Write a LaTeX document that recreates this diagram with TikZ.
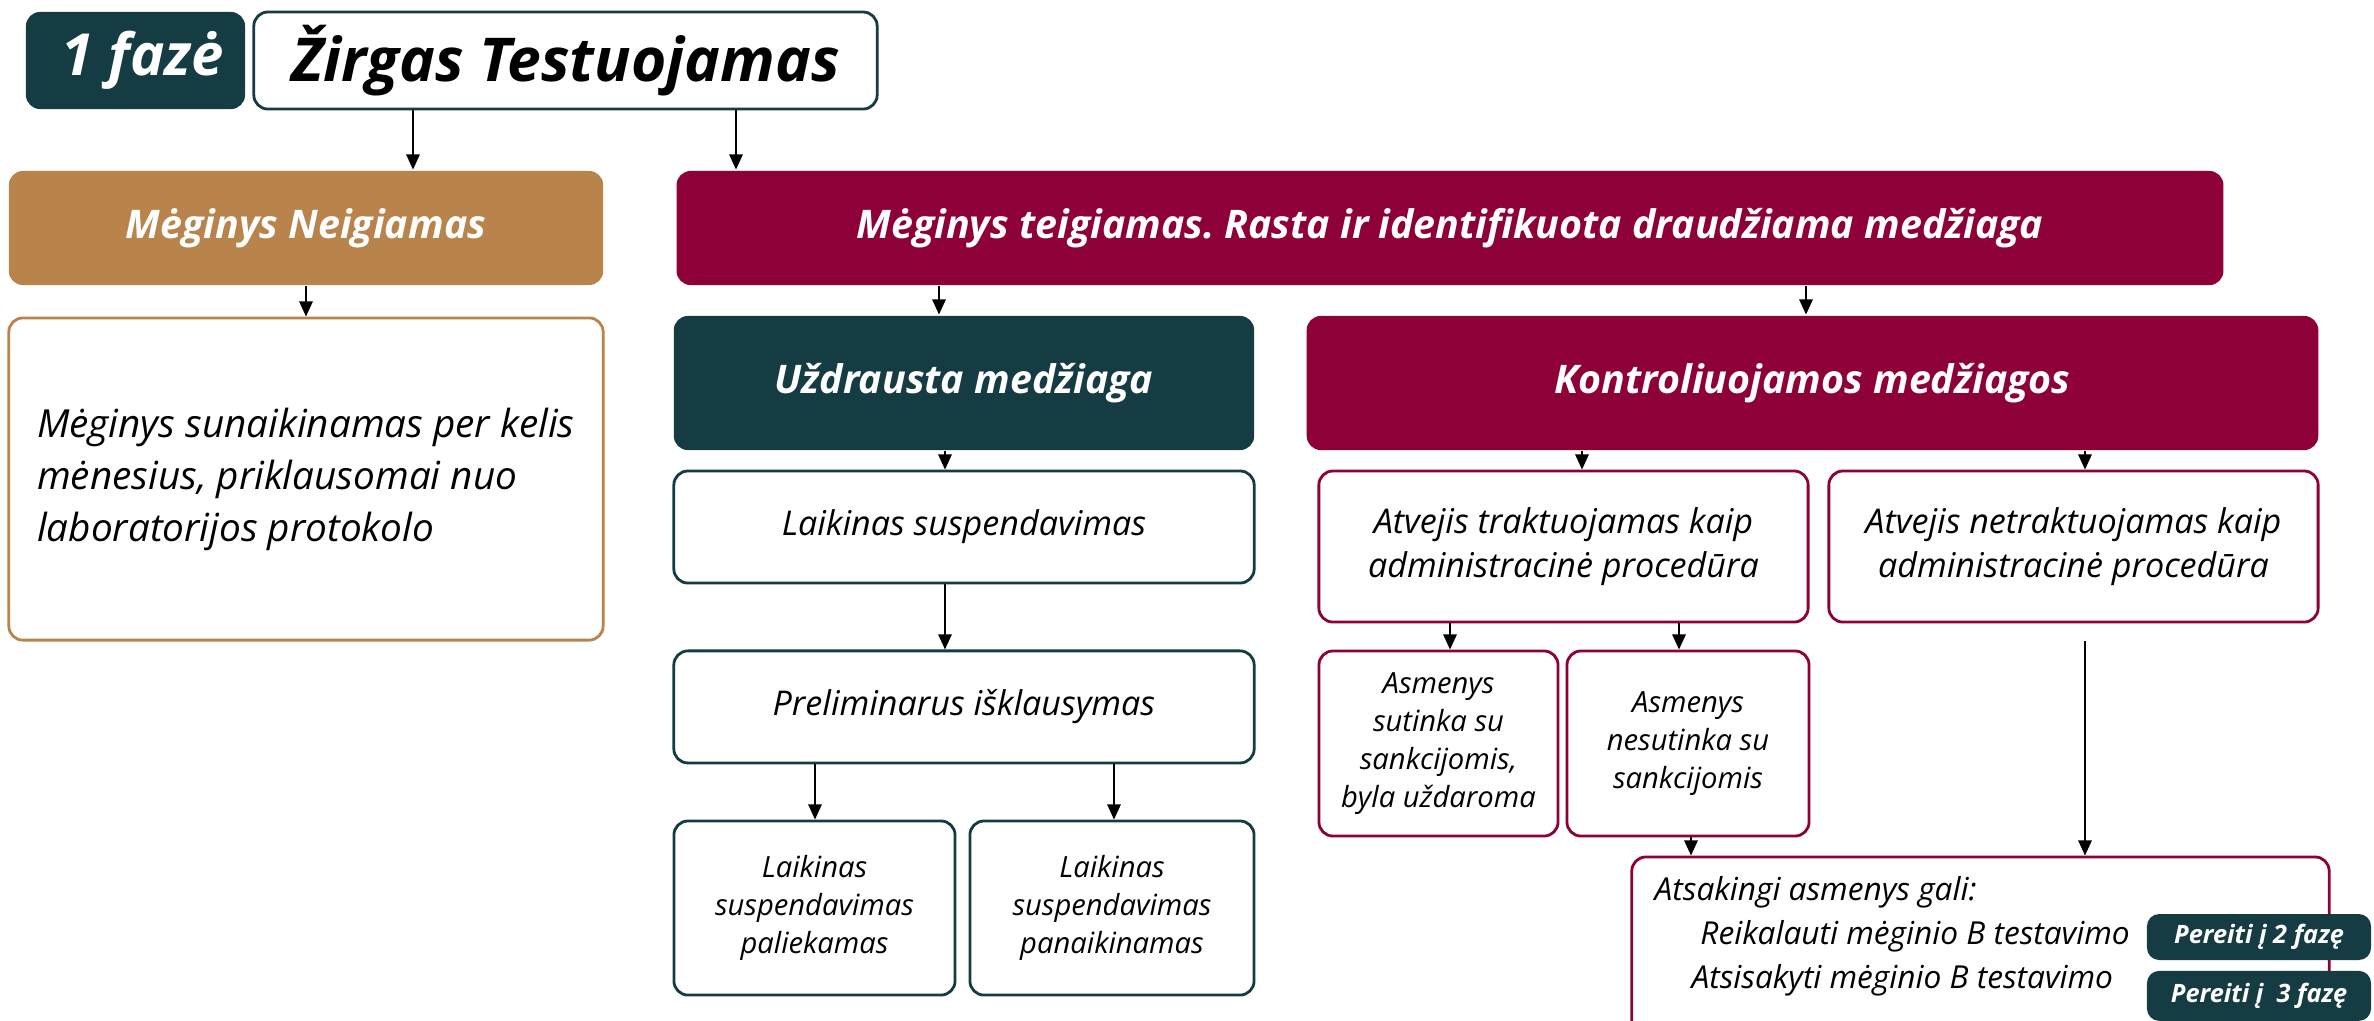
\documentclass[tikz,border=0pt]{standalone}
\usepackage{fontspec}
\setmainfont{Open Sans}
\usetikzlibrary{arrows.meta, positioning}
\frenchspacing

\definecolor{phteal}{HTML}{143C42}
\definecolor{negtan}{HTML}{B8844C}
\definecolor{poscrimson}{HTML}{8E0038}

\tikzset{
  box/.style={rectangle, rounded corners=4pt, line width=0.8pt, align=center, inner sep=0pt},
  headbox/.style={box, text=white, font=\fontsize{11.2}{13}\selectfont\bfseries\itshape},
  textbox/.style={box, draw=#1, fill=white, font=\fontsize{9.7}{12.3}\selectfont\itshape},
  smallbox/.style={box, draw=#1, fill=white, font=\fontsize{8.3}{10.8}\selectfont\itshape},
  arr/.style={line width=0.5pt, -{Triangle[width=3.8pt,length=4.3pt]}}
}

\begin{document}
\begin{tikzpicture}[x=0.01cm, y=-0.01cm]
  \useasboundingbox (0,0) rectangle (2374,1020);
  \clip (0,0) rectangle (2374,1020);

  % phase header
  \node[box, fill=phteal, text=white, minimum width=2.19cm, minimum height=0.97cm,
        font=\fontsize{16.5}{18}\selectfont\bfseries\itshape] (phase) at (135.5,60.5) {\hspace*{4pt}1 fazė};
  \node[box, draw=phteal, fill=white, minimum width=6.23cm, minimum height=0.97cm,
        font=\fontsize{17.2}{19}\selectfont\bfseries\itshape] (horse) at (565.5,60.5) {Žirgas Testuojamas};

  % sample result
  \node[headbox, fill=negtan, minimum width=5.94cm, minimum height=1.14cm] (neg) at (306,228) {Mėginys Neigiamas};
  \node[headbox, fill=poscrimson, minimum width=15.46cm, minimum height=1.14cm] (pos) at (1450,228)
       {Mėginys teigiamas. Rasta ir identifikuota draudžiama medžiaga};
  \node[box, draw=negtan, fill=white, align=left, minimum width=5.94cm, minimum height=3.22cm,
        font=\fontsize{11}{14.8}\selectfont\itshape] (destroy) at (306,479)
       {Mėginys sunaikinamas per kelis\\mėnesius, priklausomai nuo\\laboratorijos protokolo};

  % banned substance
  \node[headbox, fill=phteal, minimum width=5.8cm, minimum height=1.34cm] (banned) at (964,383) {Uždrausta medžiaga};
  \node[textbox=phteal, minimum width=5.8cm, minimum height=1.12cm] (susp) at (964,527) {Laikinas suspendavimas};
  \node[textbox=phteal, minimum width=5.8cm, minimum height=1.12cm, below=0.65cm of susp] (hearing) {Preliminarus išklausymas};
  \node[smallbox=phteal, minimum width=2.81cm, minimum height=1.74cm] (keep) at (814.5,908)
       {Laikinas\\suspendavimas\\paliekamas};
  \node[smallbox=phteal, minimum width=2.84cm, minimum height=1.74cm] (lift) at (1112,908)
       {Laikinas\\suspendavimas\\panaikinamas};

  % controlled substances
  \node[headbox, fill=poscrimson, minimum width=10.11cm, minimum height=1.34cm] (ctrl) at (1812.5,383) {Kontroliuojamos medžiagos};
  \node[textbox=poscrimson, minimum width=4.89cm, minimum height=1.51cm] (adm) at (1563.5,546.5)
       {Atvejis traktuojamas kaip\\administracinė procedūra};
  \node[textbox=poscrimson, minimum width=4.89cm, minimum height=1.51cm] (nadm) at (2073.5,546.5)
       {Atvejis netraktuojamas kaip\\administracinė procedūra};
  \node[smallbox=poscrimson, minimum width=2.39cm, minimum height=1.85cm] (agree) at (1438.5,743.5)
       {Asmenys\\sutinka su\\sankcijomis,\\byla uždaroma};
  \node[smallbox=poscrimson, minimum width=2.42cm, minimum height=1.85cm] (disagree) at (1688,743.5)
       {Asmenys\\nesutinka su\\sankcijomis};
  \node[box, draw=poscrimson, fill=white, minimum width=6.97cm, minimum height=2.03cm] (resp) at (1980.5,958.5) {};
  \node[anchor=north west, align=left, inner sep=0pt, font=\fontsize{9}{12.5}\selectfont\itshape] (resptext) at (1654,876)
       {Atsakingi asmenys gali:\\\hspace*{13pt}Reikalauti mėginio B testavimo\\\hspace*{10.5pt}Atsisakyti mėginio B testavimo};
  \node[box, fill=phteal, text=white, rounded corners=3.5pt, minimum width=2.24cm, minimum height=0.46cm,
        font=\fontsize{7.2}{8}\selectfont\bfseries\itshape] (phase2) at (2259,937) {Pereiti į 2 fazę};
  \node[box, fill=phteal, text=white, rounded corners=3.5pt, minimum width=2.24cm, minimum height=0.5cm,
        font=\fontsize{7.2}{8}\selectfont\bfseries\itshape, below=0.08cm of phase2] (phase3) {Pereiti į~~3 fazę};

  % arrows
  \draw[arr] (413,0 |- horse.south) -- (413,0 |- neg.north);
  \draw[arr] (736,0 |- horse.south) -- (736,0 |- pos.north);
  \draw[arr] (neg) -- (destroy);
  \draw[arr] (939,0 |- pos.south) -- (939,0 |- banned.north);
  \draw[arr] (1806,0 |- pos.south) -- (1806,0 |- ctrl.north);
  \draw[arr] (945,0 |- banned.south) -- (945,0 |- susp.north);
  \draw[arr] (945,0 |- susp.south) -- (945,0 |- hearing.north);
  \draw[arr] (815,0 |- hearing.south) -- (815,0 |- keep.north);
  \draw[arr] (1114,0 |- hearing.south) -- (1114,0 |- lift.north);
  \draw[arr] (1582,0 |- ctrl.south) -- (1582,0 |- adm.north);
  \draw[arr] (2085,0 |- ctrl.south) -- (2085,0 |- nadm.north);
  \draw[arr] (1450,0 |- adm.south) -- (1450,0 |- agree.north);
  \draw[arr] (1679,0 |- adm.south) -- (1679,0 |- disagree.north);
  \draw[arr] (1691,0 |- disagree.south) -- (1691,0 |- resp.north);
  \draw[arr, shorten <=0.18cm] (2085,0 |- nadm.south) -- (2085,0 |- resp.north);
\end{tikzpicture}
\end{document}
